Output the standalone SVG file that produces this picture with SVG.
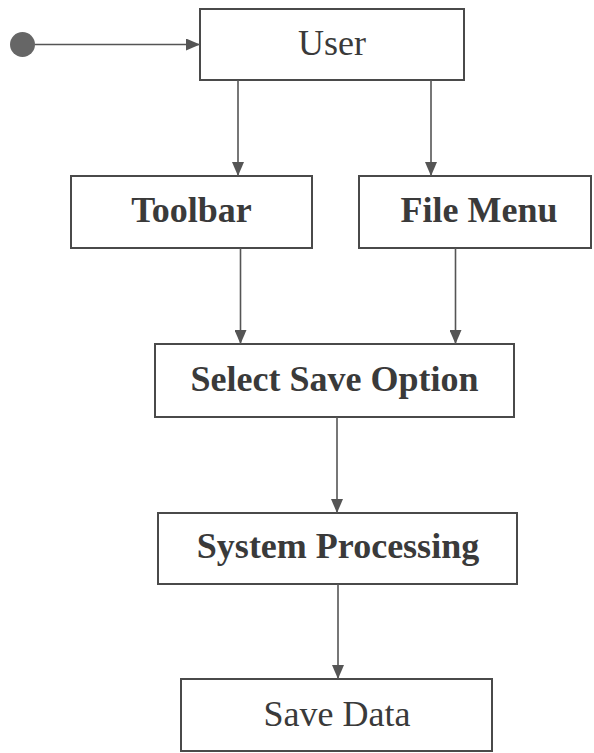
<svg xmlns="http://www.w3.org/2000/svg" width="594" height="753" viewBox="0 0 594 753">
  <style>
    .box { fill: #ffffff; stroke: #4a4a4a; stroke-width: 2; }
    .lbl { font-family: "Liberation Serif", "Times New Roman", serif; font-size: 36px; fill: #3a3a3a; text-anchor: middle; }
    .bold { font-weight: bold; }
    .edge { stroke: #555555; stroke-width: 1.6; fill: none; marker-end: url(#arrow); }
  </style>
  <defs>
    <marker id="arrow" viewBox="0 0 14 12" refX="14" refY="6" markerWidth="14" markerHeight="12" markerUnits="userSpaceOnUse" orient="auto">
      <path d="M0,0 L14,6 L0,12 Z" fill="#555555"/>
    </marker>
  </defs>
  <rect width="594" height="753" fill="#ffffff"/>

  <g id="start">
    <circle cx="22.5" cy="44.5" r="12.5" fill="#666666"/>
  </g>

  <g id="user">
    <rect class="box" x="200" y="9" width="264" height="71"/>
    <text class="lbl" x="332" y="55">User</text>
  </g>

  <g id="toolbar">
    <rect class="box" x="71" y="176" width="241" height="72"/>
    <text class="lbl bold" x="191.5" y="222">Toolbar</text>
  </g>

  <g id="file-menu">
    <rect class="box" x="359" y="176" width="232" height="72"/>
    <text class="lbl bold" x="479" y="222">File Menu</text>
  </g>

  <g id="select-save-option">
    <rect class="box" x="155" y="344" width="359" height="73"/>
    <text class="lbl bold" x="334.5" y="391">Select Save Option</text>
  </g>

  <g id="system-processing">
    <rect class="box" x="158" y="513" width="359" height="71"/>
    <text class="lbl bold" x="338" y="558">System Processing</text>
  </g>

  <g id="save-data">
    <rect class="box" x="181" y="679" width="311" height="72"/>
    <text class="lbl" x="337" y="726">Save Data</text>
  </g>

  <g id="connectors">
    <line class="edge" x1="35" y1="44.5" x2="200" y2="44.5"/>
    <line class="edge" x1="238" y1="80" x2="238" y2="176"/>
    <line class="edge" x1="431" y1="80" x2="431" y2="176"/>
    <line class="edge" x1="240.5" y1="248" x2="240.5" y2="344"/>
    <line class="edge" x1="455.5" y1="248" x2="455.5" y2="344"/>
    <line class="edge" x1="337" y1="417" x2="337" y2="513"/>
    <line class="edge" x1="338" y1="584" x2="338" y2="679"/>
  </g>
</svg>
